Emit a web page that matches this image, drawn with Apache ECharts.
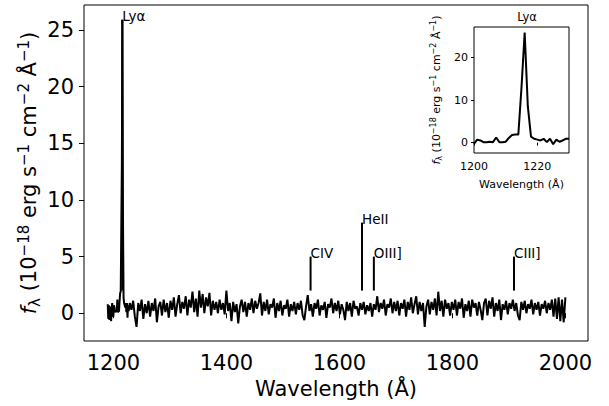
<!DOCTYPE html>
<html><head><meta charset="utf-8">
<script src="https://cdn.jsdelivr.net/npm/echarts@6/dist/echarts.min.js"></script>
<style>html,body{margin:0;padding:0;background:#fff}#c{width:609px;height:406px}</style>
</head><body><div id="c"></div>
<script>
// Spectrum around Ly-alpha, 1 Angstrom sampling
const lyaWave = [1190,1191,1192,1193,1194,1195,1196,1197,1198,1199,1200,1201,1202,1203,1204,1205,1206,1207,1208,1209,1210,1211,1212,1213,1214,1215,1216,1217,1218,1219,1220,1221,1222,1223,1224,1225,1226,1227,1228,1229,1230];
const lyaFlux = [0.8,-0.5,0.7,-0.6,0.6,0.2,-0.7,0.5,0.9,-0.2,-0.3,0.7,0.5,0.1,0.1,0.2,0.1,1.2,0.1,0.1,0.2,1.1,1.8,1.9,1.9,13.0,25.9,8.5,1.4,0.9,0.7,0.5,0.9,0.1,0.9,-0.4,0.7,0.2,0.5,0.9,0.9];
// Continuum, starts at 1232 A, 3 A sampling
const contStart = 1232, contStep = 3;
const contFlux = [
 0.3,1.1,-0.3,-1.2,0.9,0.2,1.2,-0.5,0.8,0.0,1.1,-0.3,
 0.9,0.2,1.3,-0.8,0.6,1.0,-0.2,1.2,0.1,0.9,-0.4,1.1,
 0.3,1.4,-0.3,0.8,1.6,0.0,1.0,0.4,1.5,-0.2,1.2,0.5,
 1.9,0.1,1.3,-0.3,2.0,0.5,1.7,0.0,1.4,0.6,1.8,-0.2,1.1,0.3,
 1.0,0.0,1.2,0.3,0.9,-0.1,2.0,
 0.2,0.9,-0.7,1.0,0.1,0.8,-0.9,0.6,
 1.2,0.1,1.0,-0.3,0.9,0.3,1.3,0.0,1.1,0.4,0.9,1.75,-0.2,1.0,0.2,1.2,-0.1,0.8,0.5,1.3,-0.4,0.9,0.2,1.1,-0.2,0.7,0.4,
 1.2,-0.3,0.8,0.2,1.0,-0.1,0.9,0.3,1.1,-0.2,-0.6,0.6,1.6,0.2,
 0.8,-0.3,0.9,0.4,1.2,-0.2,0.7,0.3,1.0,-0.4,0.8,0.5,1.3,0.0,0.9,0.2,1.1,
 -0.1,0.8,0.3,-0.6,1.0,0.2,0.9,-0.3,1.1,0.4,0.6,-0.2,0.9,0.3,
 1.0,-0.1,0.7,0.2,0.9,-0.3,0.8,0.3,1.5,0.1,0.9,0.4,1.2,-0.2,0.8,0.5,1.3,0.0,1.0,0.2,
 1.1,-0.2,0.9,0.4,1.2,-0.3,1.0,0.3,1.4,0.0,0.8,1.5,-0.1,1.0,0.2,0.9,
 -1.2,0.6,1.2,-0.1,1.0,0.3,1.3,-0.2,1.9,0.2,1.1,-0.3,1.2,0.4,0.9,-0.2,1.0,
 0.3,1.2,-0.2,1.0,0.4,1.3,-0.4,0.8,0.2,1.1,-0.3,1.2,0.5,0.9,-0.2,1.0,0.3,
 -0.6,0.9,1.3,-0.2,1.1,0.4,1.4,-0.3,0.9,0.2,1.2,-0.6,0.8,0.3,1.1,-0.1,0.9,
 0.4,1.2,0.2,0.9,-0.2,-0.6,1.0,0.3,1.1,0.0,0.8,0.4,1.2,-0.1,0.9,0.3,1.0,
 -0.2,0.8,0.4,1.1,0.0,0.9,0.3,1.2,-0.3,1.3,-0.5,1.4,-0.7,1.2,-0.8,1.4
];
// Emission line markers
const lineNames = ['Lyα','CIV','HeII','OIII]','CIII]'];
const lineWaves = [1215.7,1549,1640,1661,1909];
const lineBase = 2;
const lineTops = [25.9,5,8,5,5];
// Ticks
const mainXTicks = [1200,1400,1600,1800,2000];
const mainYTicks = [0,5,10,15,20,25];
const insetXTicks = [1200,1220];
const insetYTicks = [0,10,20];

const spec = lyaWave.map((w,i)=>[w,lyaFlux[i]])
  .concat(contFlux.map((f,i)=>[contStart+i*contStep,f]));
const insetSpec = spec.filter(p=>p[0]>=1200 && p[0]<=1230);

const FF = 'DejaVu Sans';
function yName(fs, ss){
  const lh = Math.round(fs*1.25);
  return {
    text: '{i|f}{sub|λ}{n| (10}{sup|−18}{n| erg s}{sup|−1}{n| cm}{sup|−2}{n| Å}{sup|−1}{n|)}',
    rich: {
      n: {fontSize: fs, fontFamily: FF, color:'#000', lineHeight: lh},
      i: {fontSize: fs, fontFamily: FF, fontStyle:'italic', color:'#000', lineHeight: lh},
      sub: {fontSize: ss, fontFamily: FF, color:'#000', verticalAlign:'bottom', lineHeight: ss},
      sup: {fontSize: ss, fontFamily: FF, color:'#000', verticalAlign:'top', lineHeight: ss}
    }
  };
}
const mainYN = yName(21, 15);
const insetYN = yName(11, 8);

function axisCommon(fs, ticks, margin, tickLen){
  return {
    axisLine: {show:false},
    splitLine: {show:false},
    axisTick: {show:true, inside:false, length:tickLen, lineStyle:{color:'#000', width:1}, customValues: ticks},
    axisLabel: {show:true, fontSize:fs, fontFamily:FF, color:'#000', margin:margin, customValues: ticks,
      formatter: v => String(v)}
  };
}

const markerSeries = lineWaves.map((w,i)=>({
  type:'line', xAxisIndex:0, yAxisIndex:0, data:[[w,lineBase],[w,lineTops[i]]],
  showSymbol:false, symbol:'none', lineStyle:{color:'#000', width:2}, z:3, silent:true
}));

const chart = echarts.init(document.getElementById('c'), null, {renderer:'svg'});
chart.setOption({
  animation:false,
  backgroundColor:'#fff',
  title:{text:'Lyα', left:522, top:6, textAlign:'center',
    textStyle:{fontFamily:FF, fontSize:11.5, fontWeight:'normal', color:'#000'}},
  grid:[
    {left:84, top:5, width:504, height:336, show:true, borderColor:'#000', borderWidth:1, outerBoundsMode:'none', containLabel:false},
    {left:474, top:27, width:95, height:126, show:true, borderColor:'#000', borderWidth:1, backgroundColor:'#fff', outerBoundsMode:'none', containLabel:false}
  ],
  xAxis:[
    Object.assign({type:'value', gridIndex:0, min:1148, max:2040,
      name:'Wavelength (Å)', nameLocation:'middle', nameGap:37,
      nameTextStyle:{fontFamily:FF, fontSize:21, color:'#000'}}, axisCommon(21, mainXTicks, 11, 5)),
    Object.assign({type:'value', gridIndex:1, min:1200, max:1230,
      name:'Wavelength (Å)', nameLocation:'middle', nameGap:26,
      nameTextStyle:{fontFamily:FF, fontSize:11, color:'#000'}}, axisCommon(11, insetXTicks, 8, 3))
  ],
  yAxis:[
    Object.assign({type:'value', gridIndex:0, min:-2.45, max:27.2,
      name:mainYN.text, nameLocation:'middle', nameGap:42, nameRotate:90, nameMoveOverlap:false,
      nameTextStyle:{fontFamily:FF, fontSize:21, color:'#000', rich:mainYN.rich}}, axisCommon(21, mainYTicks, 10, 5)),
    Object.assign({type:'value', gridIndex:1, min:-2.45, max:27.2,
      name:insetYN.text, nameLocation:'middle', nameGap:31, nameRotate:90,
      nameTextStyle:{fontFamily:FF, fontSize:11, color:'#000', rich:insetYN.rich}}, axisCommon(11, insetYTicks, 6, 3))
  ],
  series:[
    {type:'line', xAxisIndex:0, yAxisIndex:0, data:spec, showSymbol:false, symbol:'none',
     lineStyle:{color:'#000', width:2}, z:2, silent:true, clip:true},
    ...markerSeries,
    {type:'scatter', xAxisIndex:0, yAxisIndex:0, symbolSize:0, z:4, silent:true,
     itemStyle:{opacity:1},
     data: lineWaves.map((w,i)=>[w,lineTops[i]]),
     label:{show:true, position:'top', distance:0, align:'left', verticalAlign:'bottom', offset:[0,3],
       fontFamily:FF, fontSize:13.5, color:'#000', opacity:1, formatter:p=>lineNames[p.dataIndex]}},
    {type:'line', xAxisIndex:1, yAxisIndex:1, data:insetSpec, showSymbol:false, symbol:'none',
     lineStyle:{color:'#000', width:2}, z:2, silent:true, clip:true}
  ]
});
</script></body></html>
